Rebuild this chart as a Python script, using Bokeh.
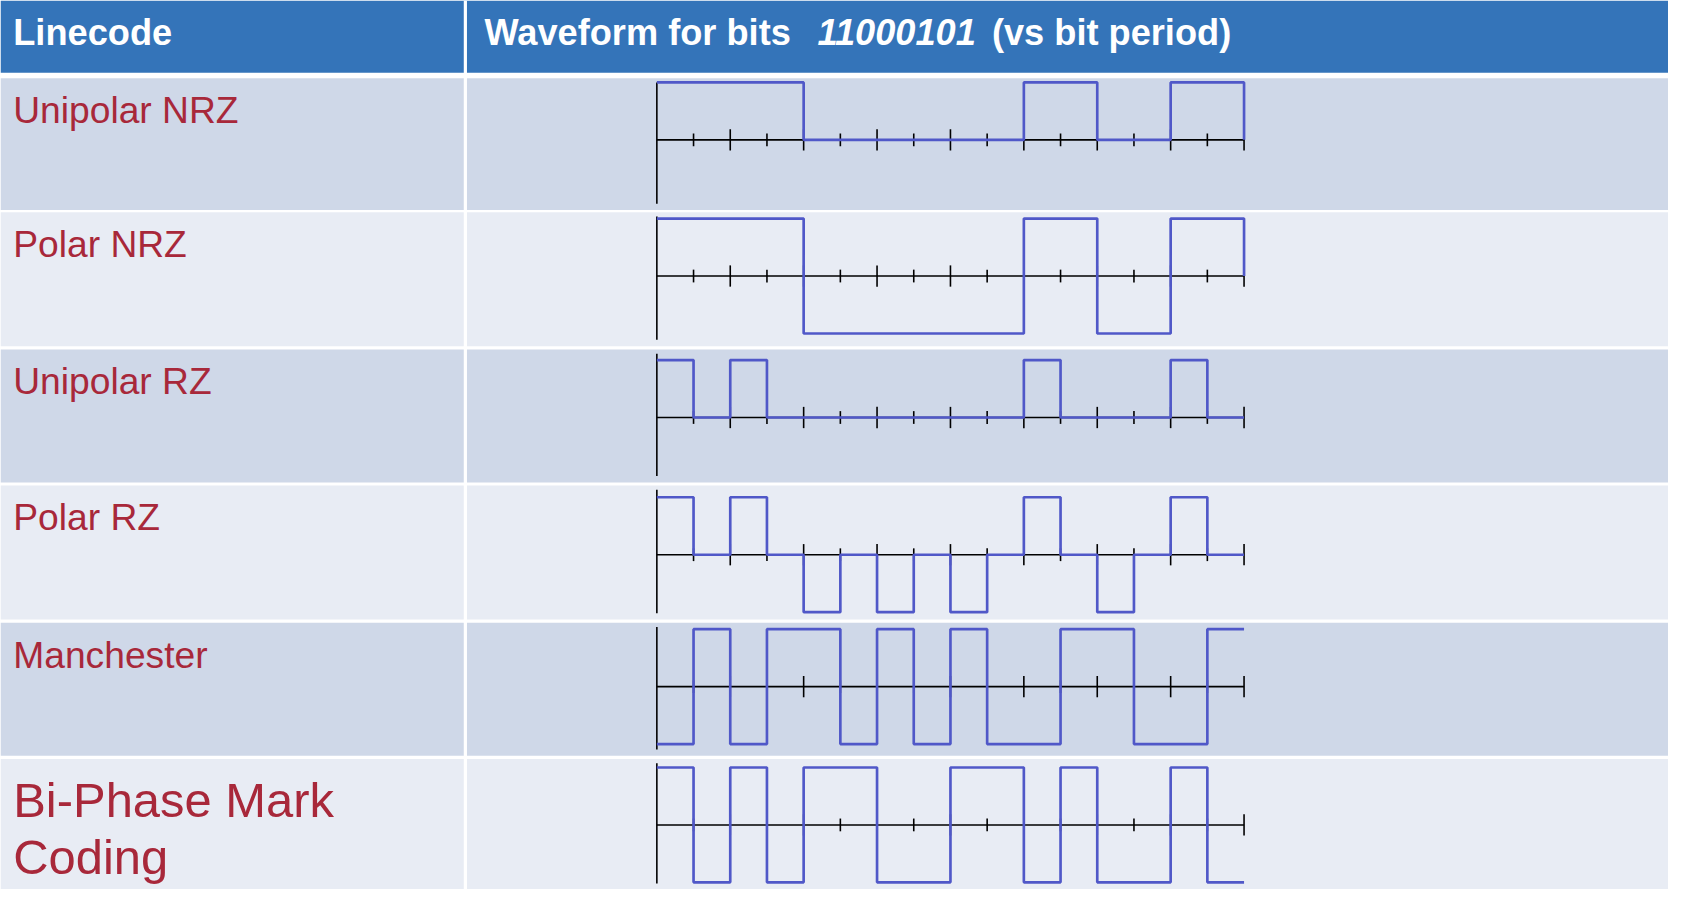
from bokeh.plotting import figure
from bokeh.models import Range1d
from bokeh.core.properties import value
from bokeh.embed import file_html
from bokeh.resources import INLINE

# layout drawn in a 1568 x 836 reference space, scaled to the page
REF_W, REF_H = 1568, 836
W, H = 1668, 889
S = W / REF_W

bits = "11000101"
row_names = ["Unipolar NRZ", "Polar NRZ", "Unipolar RZ", "Polar RZ", "Manchester", "Bi-Phase Mark\nCoding"]
# signal level for each half bit period (1 = high, 0 = zero line, -1 = low)
unipolar_nrz = [1, 1, 1, 1, 0, 0, 0, 0, 0, 0, 1, 1, 0, 0, 1, 1]
polar_nrz = [1, 1, 1, 1, -1, -1, -1, -1, -1, -1, 1, 1, -1, -1, 1, 1]
unipolar_rz = [1, 0, 1, 0, 0, 0, 0, 0, 0, 0, 1, 0, 0, 0, 1, 0]
polar_rz = [1, 0, 1, 0, -1, 0, -1, 0, -1, 0, 1, 0, -1, 0, 1, 0]
manchester = [-1, 1, -1, 1, 1, -1, 1, -1, 1, -1, -1, 1, 1, -1, -1, 1]
biphase_mark = [1, -1, 1, -1, 1, 1, -1, -1, 1, 1, -1, 1, -1, -1, 1, -1]
levels = [unipolar_nrz, polar_nrz, unipolar_rz, polar_rz, manchester, biphase_mark]
end_level = [0, 0, None, None, None, None]

row_top = [73, 199, 328, 456, 585, 713]
row_bot = [197, 325, 453, 582, 710, 836]
baseline = [131, 259, 392, 521, 645, 775]
amp = 54
x0, bw = 617, 69
col_split = 437

p = figure(width=W, height=H, x_range=Range1d(0, REF_W), y_range=Range1d(H / S, 0),
           output_backend="svg", toolbar_location=None, min_border=0)
p.axis.visible = False
p.grid.visible = False
p.outline_line_color = None
p.background_fill_color = "white"

# header
p.quad(left=0, right=REF_W, top=0, bottom=68, fill_color="#3474b9", line_color=None)
p.segment(x0=col_split, y0=0, x1=col_split, y1=REF_H, line_color="white", line_width=3 * S)
bold = dict(text_color="white", text_font=value("Liberation Sans"), text_font_size=f"{34*S:.1f}px",
            text_baseline="middle", text_font_style="bold")
p.text(x=[12], y=[30], text=["Linecode"], **bold)
p.text(x=[455], y=[30], text=["Waveform for bits"], **bold)
p.text(x=[768], y=[30], text=[bits], **{**bold, "text_font_style": "bold italic"})
p.text(x=[932], y=[30], text=["(vs bit period)"], **bold)

fills = ["#cfd8e8", "#e8ecf4"]
for i, name in enumerate(row_names):
    for l, r in [(0, col_split - 1.5), (col_split + 1.5, REF_W)]:
        p.quad(left=l, right=r, top=row_top[i], bottom=row_bot[i], fill_color=fills[i % 2], line_color=None)
    if "\n" in name:
        lines = name.split("\n")
        p.text(x=[12, 12], y=[752, 805], text=lines, text_color="#a8283a",
               text_font=value("Liberation Sans"), text_font_size=f"{46*S:.1f}px", text_baseline="middle")
    else:
        p.text(x=[12], y=[row_top[i] + 30], text=[name], text_color="#a8283a",
               text_font=value("Liberation Sans"), text_font_size=f"{35*S:.1f}px", text_baseline="middle")

    b = baseline[i]
    # vertical axis and time axis with ticks
    p.segment(x0=x0, y0=row_top[i] + 4, x1=x0, y1=row_bot[i] - 6, line_color="black", line_width=1.5 * S)
    p.segment(x0=x0, y0=b, x1=x0 + 8 * bw, y1=b, line_color="black", line_width=1.5 * S)
    tx = [x0 + k * bw / 2 for k in range(1, 17)]
    th = [10 if k % 2 == 0 else 6 for k in range(1, 17)]
    p.segment(x0=tx, y0=[b - h for h in th], x1=tx, y1=[b + h for h in th], line_color="black", line_width=1.5 * S)

    # waveform as a step line through the half-bit levels
    xs, ys = [], []
    for k, lv in enumerate(levels[i]):
        y = b - lv * amp
        xs += [x0 + k * bw / 2, x0 + (k + 1) * bw / 2]
        ys += [y, y]
    if end_level[i] is not None:
        xs.append(xs[-1])
        ys.append(b - end_level[i] * amp)
    p.line(xs, ys, line_color="#5058c8", line_width=2.5 * S)

open("out.html", "w").write(file_html(p, INLINE))
